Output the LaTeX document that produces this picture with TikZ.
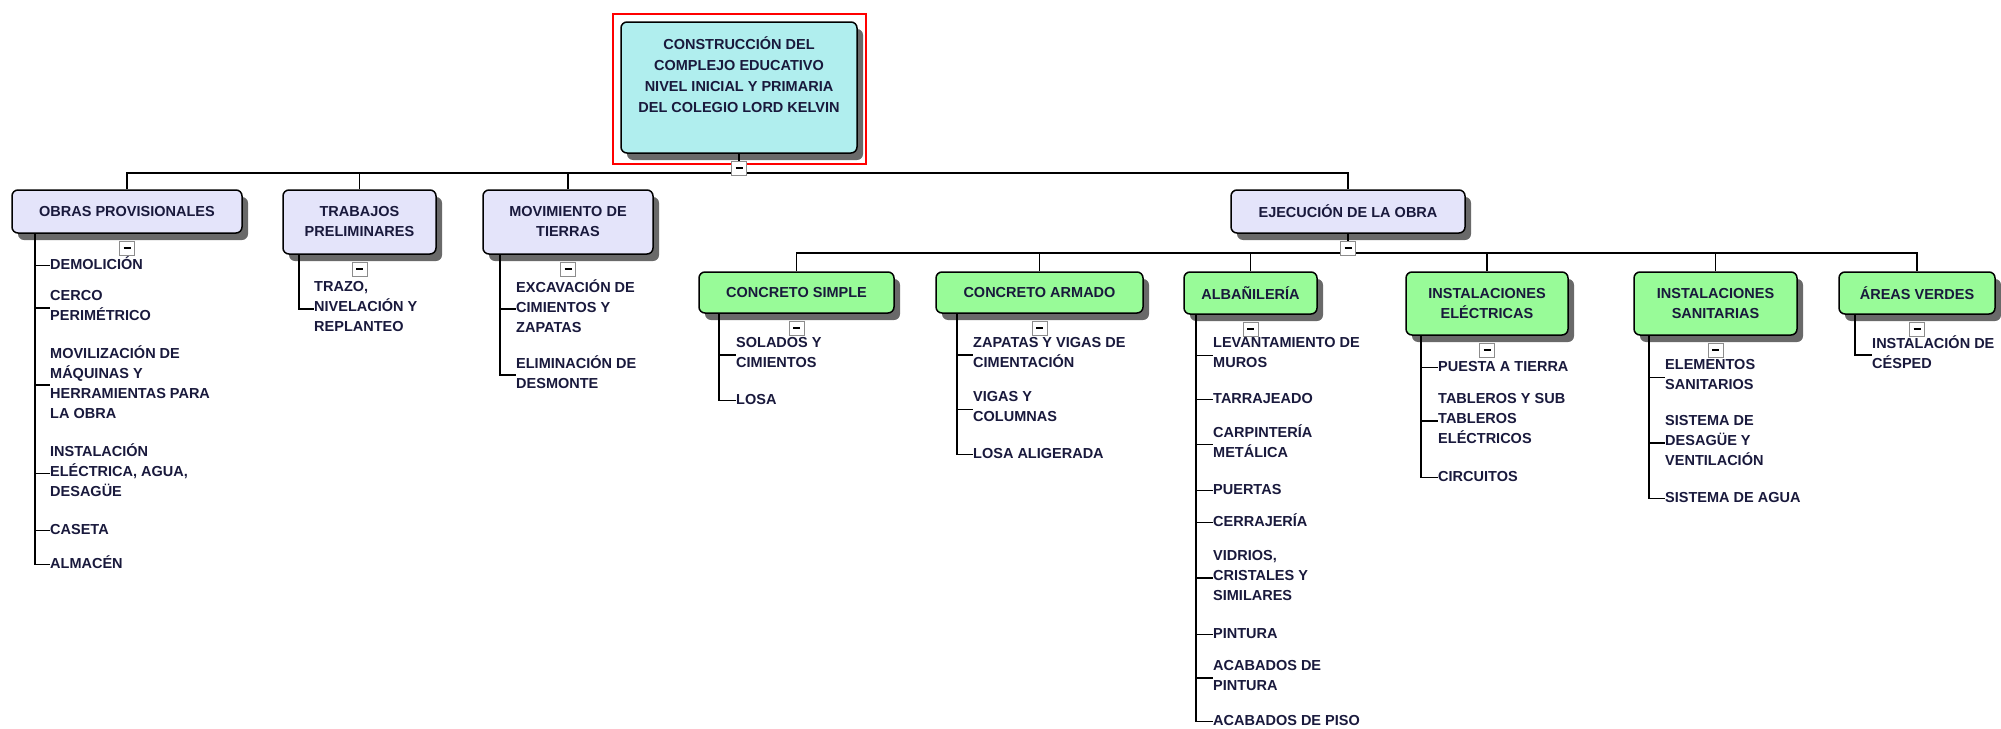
\documentclass[tikz,border=0pt]{standalone}
\usepackage{fontspec}
\setmainfont{Liberation Sans}
\usetikzlibrary{shadows}
\definecolor{rootfill}{RGB}{176,238,238}
\definecolor{lavfill}{RGB}{228,228,250}
\definecolor{grnfill}{RGB}{152,251,152}
\definecolor{txt}{RGB}{25,25,60}
\definecolor{shadowc}{RGB}{105,105,105}
\newcommand{\wbsfont}{\fontsize{14.5}{20}\selectfont\bfseries}
\newcommand{\wbsrootfont}{\fontsize{14.5}{21}\selectfont\bfseries}
\begin{document}
\begin{tikzpicture}[x=1pt,y=-1pt,
  box/.style={draw=black, line width=1.5pt, rounded corners=6pt, align=center, text=txt, font=\wbsfont, inner sep=0pt,
    drop shadow={shadow xshift=6pt, shadow yshift=-7pt, fill=shadowc, opacity=1}},
  l1/.style={box, fill=lavfill},
  l2/.style={box, fill=grnfill},
  item/.style={anchor=west, align=left, inner sep=0pt, text=txt, font=\wbsfont, yshift=-2.5pt,
    execute at begin node=\strut, execute at end node=\strut},
  conn/.style={line width=1.6pt, draw=black},
  minus/.style={draw=black!45, fill=white, line width=0.8pt, minimum width=15pt, minimum height=14pt, inner sep=0pt}
]
\useasboundingbox (0,0) rectangle (2001,728);

% ---------- boxes ----------
\node[box, fill=rootfill, font=\wbsrootfont, minimum width=236pt, minimum height=131pt] (root) at (739,87.5)
  {CONSTRUCCIÓN DEL\\COMPLEJO EDUCATIVO\\NIVEL INICIAL Y PRIMARIA\\DEL COLEGIO LORD KELVIN\\[4pt]\mbox{}};
\draw[red, line width=1.3pt] (613,14) rectangle (866,164);

\node[l1, minimum width=230pt, minimum height=43pt] (obras) at (127,211.5) {OBRAS PROVISIONALES};
\node[l1, minimum width=153pt, minimum height=64pt] (trab) at (359.5,222) {TRABAJOS\\PRELIMINARES};
\node[l1, minimum width=170pt, minimum height=64pt] (mov) at (568,222) {MOVIMIENTO DE\\TIERRAS};
\node[l1, minimum width=234pt, minimum height=43pt] (ejec) at (1348,211.5) {EJECUCIÓN DE LA OBRA};

\node[l2, minimum width=195pt, minimum height=41pt] (cs) at (796.5,292.5) {CONCRETO SIMPLE};
\node[l2, minimum width=207pt, minimum height=41pt] (ca) at (1039.5,292.5) {CONCRETO ARMADO};
\node[l2, minimum width=133pt, minimum height=42pt] (alb) at (1250.5,293) {ALBAÑILERÍA};
\node[l2, minimum width=162pt, minimum height=63pt] (iel) at (1487,303.5) {INSTALACIONES\\ELÉCTRICAS};
\node[l2, minimum width=163pt, minimum height=63pt] (isa) at (1715.5,303.5) {INSTALACIONES\\SANITARIAS};
\node[l2, minimum width=156pt, minimum height=42pt] (av) at (1917,293) {ÁREAS VERDES};

% ---------- items ----------
\node[item] (o1) at (50,263) {DEMOLICIÓN};
\node[item] (o2) at (50,305.5) {CERCO\\PERIMÉTRICO};
\node[item] (o3) at (50,382.5) {MOVILIZACIÓN DE\\MÁQUINAS Y\\HERRAMIENTAS PARA\\LA OBRA};
\node[item] (o4) at (50,471) {INSTALACIÓN\\ELÉCTRICA, AGUA,\\DESAGÜE};
\node[item] (o5) at (50,528) {CASETA};
\node[item] (o6) at (50,562) {ALMACÉN};

\node[item] (t1) at (314,306.5) {TRAZO,\\NIVELACIÓN Y\\REPLANTEO};

\node[item] (m1) at (516,306.5) {EXCAVACIÓN DE\\CIMIENTOS Y\\ZAPATAS};
\node[item] (m2) at (516,372.5) {ELIMINACIÓN DE\\DESMONTE};

\node[item] (cs1) at (736,352.5) {SOLADOS Y\\CIMIENTOS};
\node[item] (cs2) at (736,398) {LOSA};

\node[item] (ca1) at (973,352.5) {ZAPATAS Y VIGAS DE\\CIMENTACIÓN};
\node[item] (ca2) at (973,407) {VIGAS Y\\COLUMNAS};
\node[item] (ca3) at (973,452) {LOSA ALIGERADA};

\node[item] (a1) at (1213,353) {LEVANTAMIENTO DE\\MUROS};
\node[item] (a2) at (1213,397) {TARRAJEADO};
\node[item] (a3) at (1213,442) {CARPINTERÍA\\METÁLICA};
\node[item] (a4) at (1213,488) {PUERTAS};
\node[item] (a5) at (1213,520) {CERRAJERÍA};
\node[item] (a6) at (1213,575.5) {VIDRIOS,\\CRISTALES Y\\SIMILARES};
\node[item] (a7) at (1213,632) {PINTURA};
\node[item] (a8) at (1213,675.5) {ACABADOS DE\\PINTURA};
\node[item] (a9) at (1213,719) {ACABADOS DE PISO};

\node[item] (e1) at (1438,365) {PUESTA A TIERRA};
\node[item] (e2) at (1438,418.5) {TABLEROS Y SUB\\TABLEROS\\ELÉCTRICOS};
\node[item] (e3) at (1438,475) {CIRCUITOS};

\node[item] (s1) at (1665,375) {ELEMENTOS\\SANITARIOS};
\node[item] (s2) at (1665,440.5) {SISTEMA DE\\DESAGÜE Y\\VENTILACIÓN};
\node[item] (s3) at (1665,496) {SISTEMA DE AGUA};

\node[item] (v1) at (1872,352.5) {INSTALACIÓN DE\\CÉSPED};

% ---------- connectors: level 1 ----------
\coordinate (bus1) at (739,173);
\draw[conn] (root.south) -- (bus1);
\draw[conn] (obras.north) -- (obras.north |- bus1) -- (ejec.north |- bus1) -- (ejec.north);
\draw[conn] (trab.north) -- (trab.north |- bus1);
\draw[conn] (mov.north) -- (mov.north |- bus1);

% ---------- connectors: level 2 ----------
\coordinate (bus2) at (1348,253);
\draw[conn] (ejec.south) -- (bus2);
\draw[conn] (cs.north) -- (cs.north |- bus2) -- (av.north |- bus2) -- (av.north);
\draw[conn] (ca.north) -- (ca.north |- bus2);
\draw[conn] (alb.north) -- (alb.north |- bus2);
\draw[conn] (iel.north) -- (iel.north |- bus2);
\draw[conn] (isa.north) -- (isa.north |- bus2);

% ---------- connectors: items ----------
\draw[conn] (obras.south -| 35,0) |- (o6.west);
\foreach \i in {o1,o2,o3,o4,o5} \draw[conn] (\i.west -| 35,0) -- (\i.west);
\draw[conn] (trab.south -| 299,0) |- (t1.west);
\draw[conn] (mov.south -| 500,0) |- (m2.west);
\draw[conn] (m1.west -| 500,0) -- (m1.west);
\draw[conn] (cs.south -| 719,0) |- (cs2.west);
\draw[conn] (cs1.west -| 719,0) -- (cs1.west);
\draw[conn] (ca.south -| 957,0) |- (ca3.west);
\foreach \i in {ca1,ca2} \draw[conn] (\i.west -| 957,0) -- (\i.west);
\draw[conn] (alb.south -| 1196,0) |- (a9.west);
\foreach \i in {a1,a2,a3,a4,a5,a6,a7,a8} \draw[conn] (\i.west -| 1196,0) -- (\i.west);
\draw[conn] (iel.south -| 1421,0) |- (e3.west);
\foreach \i in {e1,e2} \draw[conn] (\i.west -| 1421,0) -- (\i.west);
\draw[conn] (isa.south -| 1649,0) |- (s3.west);
\foreach \i in {s1,s2} \draw[conn] (\i.west -| 1649,0) -- (\i.west);
\draw[conn] (av.south -| 1855,0) |- (v1.west);

% ---------- collapse markers ----------
\foreach \b in {root,obras,trab,mov,ejec,cs,ca,alb,iel,isa,av}
  \node[minus] (m-\b) at ([yshift=-14.5pt]\b.south) {\rule{7pt}{1.6pt}};

\end{tikzpicture}
\end{document}
